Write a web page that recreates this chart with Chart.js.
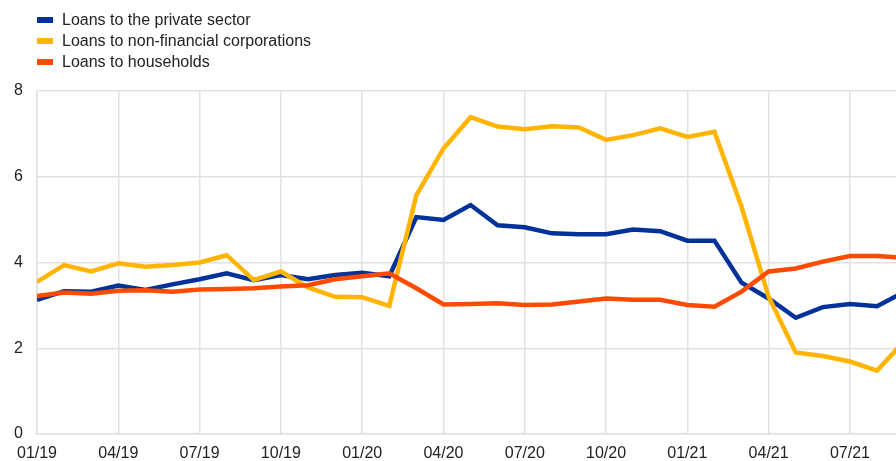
<!DOCTYPE html>
<html>
<head>
<meta charset="utf-8">
<script src="https://cdn.jsdelivr.net/npm/chart.js@4.4.0/dist/chart.umd.min.js"></script>
<style>
    html, body {
        margin: 0;
        padding: 0;
        background: #fff;
    }
    #wrap {
        position: relative;
        width: 896px;
        height: 461px;
        font-family: "Liberation Sans", Arial, sans-serif;
    }
    #legend {
        position: absolute;
        left: 37px;
        top: 9px;
        margin: 0;
        padding: 0;
        list-style: none;
        font-size: 16px;
        color: #222;
    }
    #legend li {
        height: 21px;
        line-height: 21px;
        display: flex;
        align-items: center;
    }
    #legend .swatch {
        width: 16px;
        height: 6px;
        margin-right: 9px;
    }
</style>
</head>
<body>
<div id="wrap">
    <canvas id="myChart" width="896" height="461"></canvas>
    <ul id="legend"></ul>
</div>
<script>
// Monthly labels, 01/19 .. 09/21
const months = ['01/19', '02/19', '03/19', '04/19', '05/19', '06/19', '07/19', '08/19', '09/19', '10/19', '11/19', '12/19',
    '01/20', '02/20', '03/20', '04/20', '05/20', '06/20', '07/20', '08/20', '09/20', '10/20', '11/20', '12/20',
    '01/21', '02/21', '03/21', '04/21', '05/21', '06/21', '07/21', '08/21', '09/21'];
const tickLabels = ['01/19', '04/19', '07/19', '10/19', '01/20', '04/20', '07/20', '10/20', '01/21', '04/21', '07/21'];

const privateSector = [3.13, 3.33, 3.32, 3.46, 3.36, 3.49, 3.61, 3.75, 3.59, 3.71, 3.61, 3.71,
    3.76, 3.68, 5.06, 4.99, 5.34, 4.87, 4.82, 4.68, 4.66, 4.66, 4.77, 4.73,
    4.51, 4.51, 3.53, 3.16, 2.71, 2.96, 3.03, 2.98, 3.31];
const corporations = [3.55, 3.94, 3.79, 3.98, 3.90, 3.94, 4.00, 4.17, 3.59, 3.79, 3.42, 3.20,
    3.19, 2.99, 5.57, 6.66, 7.39, 7.17, 7.11, 7.18, 7.15, 6.86, 6.97, 7.13,
    6.93, 7.05, 5.30, 3.20, 1.90, 1.82, 1.69, 1.48, 2.16];
const households = [3.22, 3.30, 3.27, 3.34, 3.35, 3.32, 3.37, 3.38, 3.40, 3.44, 3.47, 3.61,
    3.68, 3.75, 3.40, 3.02, 3.03, 3.05, 3.01, 3.02, 3.09, 3.16, 3.13, 3.13,
    3.01, 2.97, 3.32, 3.79, 3.86, 4.02, 4.15, 4.15, 4.11];

const seriesNames = ['Loans to the private sector', 'Loans to non-financial corporations', 'Loans to households'];
const seriesColors = ['#003299', '#ffb400', '#ff4b00'];

const gridColor = '#e1e1e1';
const textColor = '#222';
const fontFamily = '"Liberation Sans", Arial, sans-serif';

function toPoints(values) {
    return values.map((v, i) => ({ x: i, y: v }));
}

const allSeries = [privateSector, corporations, households];

// households drawn on top, then corporations, private sector at the bottom
const datasets = allSeries.map((vals, i) => ({
    label: seriesNames[i],
    data: toPoints(vals),
    borderColor: seriesColors[i],
    backgroundColor: seriesColors[i],
    borderWidth: 4.5,
    pointRadius: 0,
    tension: 0,
    order: i === 2 ? 0 : (i === 1 ? 1 : 2)
}));

// html legend
const legend = document.getElementById('legend');
seriesNames.forEach((name, i) => {
    const li = document.createElement('li');
    li.innerHTML = `<span class="swatch" style="background:${seriesColors[i]}"></span><span>${name}</span>`;
    legend.appendChild(li);
});

const ctx = document.getElementById('myChart').getContext('2d');
const chart = new Chart(ctx, {
    type: 'line',
    data: { datasets: datasets },
    options: {
        responsive: false,
        animation: false,
        layout: {
            padding: { top: 91, right: 0, bottom: 0, left: 0 }
        },
        plugins: {
            legend: { display: false },
            tooltip: { enabled: false }
        },
        scales: {
            x: {
                type: 'linear',
                min: 0,
                max: 31.7,
                afterBuildTicks: (scale) => {
                    // one tick every three months
                    scale.ticks = tickLabels.map((_, i) => ({ value: i * 3 }));
                },
                afterFit: (scale) => {
                    scale.height = 27;
                },
                ticks: {
                    autoSkip: false,
                    maxRotation: 0,
                    padding: 10,
                    color: textColor,
                    font: { family: fontFamily, size: 16 },
                    callback: (value) => tickLabels[Math.round(value / 3)]
                },
                grid: {
                    color: gridColor,
                    lineWidth: 1.5,
                    drawTicks: false
                },
                border: { color: gridColor, width: 1.5 }
            },
            y: {
                min: 0,
                max: 8,
                afterFit: (scale) => {
                    scale.width = 37;
                },
                ticks: {
                    stepSize: 2,
                    padding: 14,
                    color: textColor,
                    font: { family: fontFamily, size: 16 }
                },
                grid: {
                    color: gridColor,
                    lineWidth: 1.5,
                    drawTicks: false
                },
                border: { color: gridColor, width: 1.5 }
            }
        }
    }
});
</script>
</body>
</html>
